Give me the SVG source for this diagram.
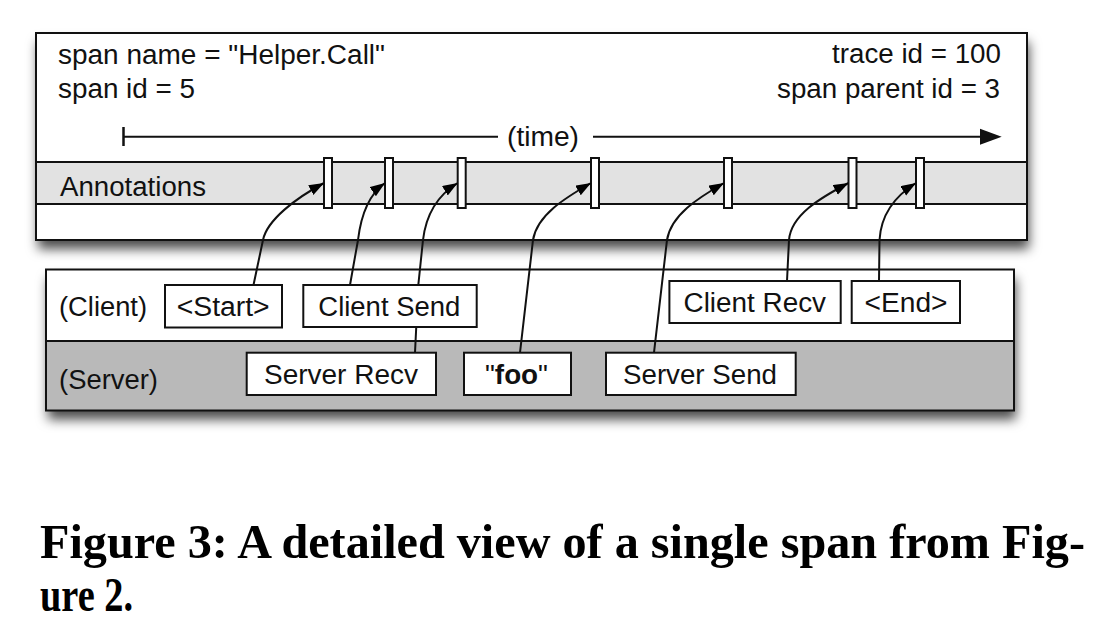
<svg xmlns="http://www.w3.org/2000/svg" width="1114" height="632" viewBox="0 0 1114 632">
<defs>
<filter id="shadow" x="-5%" y="-10%" width="115%" height="140%">
<feDropShadow dx="2" dy="9" stdDeviation="6" flood-color="#000" flood-opacity="0.7"/>
</filter>
<marker id="ah" markerUnits="userSpaceOnUse" markerWidth="16" markerHeight="12" refX="15" refY="5.5" orient="auto">
<path d="M0,0 L15,5.5 L0,11 z" fill="#000"/>
</marker>
</defs>
<style>
text{font-family:"Liberation Sans",Arial,Helvetica,sans-serif;font-size:27px;fill:#111}
.box{fill:#fff;stroke:#111;stroke-width:2}
.tick{fill:#fff;stroke:#111;stroke-width:2}
.ln{fill:none;stroke:#111;stroke-width:2}
.conn{fill:none;stroke:#111;stroke-width:2;marker-end:url(#ah)}
.cap{font-family:"Liberation Serif","Times New Roman",serif;font-weight:bold;font-size:48px;fill:#000}
</style>
<rect width="1114" height="632" fill="#fff"/>

<g id="span-box">
<rect x="36" y="33" width="991" height="207" fill="#fff" filter="url(#shadow)"/>
<rect x="36" y="162" width="991" height="42" fill="#e2e2e2"/>
<rect x="36" y="33" width="991" height="207" class="ln"/>
<line x1="36" y1="162" x2="1027" y2="162" class="ln"/>
<line x1="36" y1="204" x2="1027" y2="204" class="ln"/>
<text x="58" y="63.5" textLength="327" lengthAdjust="spacingAndGlyphs">span name = "Helper.Call"</text>
<text x="58" y="97.5" textLength="137" lengthAdjust="spacingAndGlyphs">span id = 5</text>
<text x="1001" y="62.5" text-anchor="end" textLength="169" lengthAdjust="spacingAndGlyphs">trace id = 100</text>
<text x="1000" y="98" text-anchor="end" textLength="223" lengthAdjust="spacingAndGlyphs">span parent id = 3</text>
<line x1="123.5" y1="127" x2="123.5" y2="146" stroke="#111" stroke-width="2.5"/>
<line x1="123" y1="136.7" x2="498" y2="136.7" class="ln"/>
<line x1="593" y1="136.7" x2="982" y2="136.7" class="ln"/>
<polygon points="980,128.7 1001.7,136.7 980,144.7" fill="#111"/>
<text x="507" y="146" textLength="72" lengthAdjust="spacingAndGlyphs">(time)</text>
<text x="60" y="195.5" textLength="146" lengthAdjust="spacingAndGlyphs">Annotations</text>
<rect class="tick" x="324" y="158" width="8" height="50"/>
<rect class="tick" x="385" y="158" width="8" height="50"/>
<rect class="tick" x="457.7" y="158" width="8" height="50"/>
<rect class="tick" x="591" y="158" width="8" height="50"/>
<rect class="tick" x="724" y="158" width="8" height="50"/>
<rect class="tick" x="848.5" y="158" width="8" height="50"/>
<rect class="tick" x="916" y="158" width="8" height="50"/>
</g>

<g id="lanes">
<rect x="46" y="269.5" width="968" height="141" fill="#fff" filter="url(#shadow)"/>
<rect x="46" y="341" width="968" height="69.5" fill="#b9b9b9"/>
<rect x="46" y="269.5" width="968" height="141" class="ln"/>
<line x1="46" y1="341" x2="1014" y2="341" class="ln"/>
<text x="59" y="315.5" textLength="88" lengthAdjust="spacingAndGlyphs">(Client)</text>
<text x="59" y="388.5" textLength="99" lengthAdjust="spacingAndGlyphs">(Server)</text>
</g>

<g id="connectors">
<path class="conn" d="M253.5,285 L263,240 C267,220 296,198 324,183"/>
<path class="conn" d="M350,285 L358,240 C361,215 368,195 385,183"/>
<path class="conn" d="M415,352.7 L418.3,285 L423,240 C426,215 438,195 457.7,183"/>
<path class="conn" d="M520,352.7 L533,240 C537,215 565,198 591,183"/>
<path class="conn" d="M654,352.7 L667,240 C671,215 698,198 724,183"/>
<path class="conn" d="M787,281 L789,240 C791,215 820,198 848.5,183"/>
<path class="conn" d="M879,281 L879.5,240 C881,215 895,196 916,183"/>
</g>

<g id="start">
<rect class="box" x="165" y="285" width="117" height="42.5"/>
<text x="176.7" y="315.5" textLength="93" lengthAdjust="spacingAndGlyphs">&lt;Start&gt;</text>
</g>
<g id="client-send">
<rect class="box" x="303.3" y="285" width="173.4" height="42"/>
<text x="318.3" y="316" textLength="142" lengthAdjust="spacingAndGlyphs">Client Send</text>
</g>
<g id="client-recv">
<rect class="box" x="669.4" y="281" width="171.3" height="42"/>
<text x="683.5" y="312" textLength="142.5" lengthAdjust="spacingAndGlyphs">Client Recv</text>
</g>
<g id="end">
<rect class="box" x="851.7" y="281" width="108.3" height="42"/>
<text x="864.5" y="312" textLength="83" lengthAdjust="spacingAndGlyphs">&lt;End&gt;</text>
</g>
<g id="server-recv">
<rect class="box" x="246.7" y="352.7" width="189.3" height="42.3"/>
<text x="264" y="384" textLength="154" lengthAdjust="spacingAndGlyphs">Server Recv</text>
</g>
<g id="foo">
<rect class="box" x="464" y="352.7" width="107" height="42.3"/>
<text x="485" y="384" textLength="63" lengthAdjust="spacingAndGlyphs">"<tspan font-weight="bold">foo</tspan>"</text>
</g>
<g id="server-send">
<rect class="box" x="606" y="352.7" width="189.7" height="42.3"/>
<text x="623" y="384" textLength="154" lengthAdjust="spacingAndGlyphs">Server Send</text>
</g>

<g id="caption">
<text class="cap" x="40" y="558" textLength="1045" lengthAdjust="spacingAndGlyphs">Figure 3:  A detailed view of a single span from Fig-</text>
<text class="cap" x="40" y="611" textLength="93" lengthAdjust="spacingAndGlyphs">ure 2.</text>
</g>
</svg>
